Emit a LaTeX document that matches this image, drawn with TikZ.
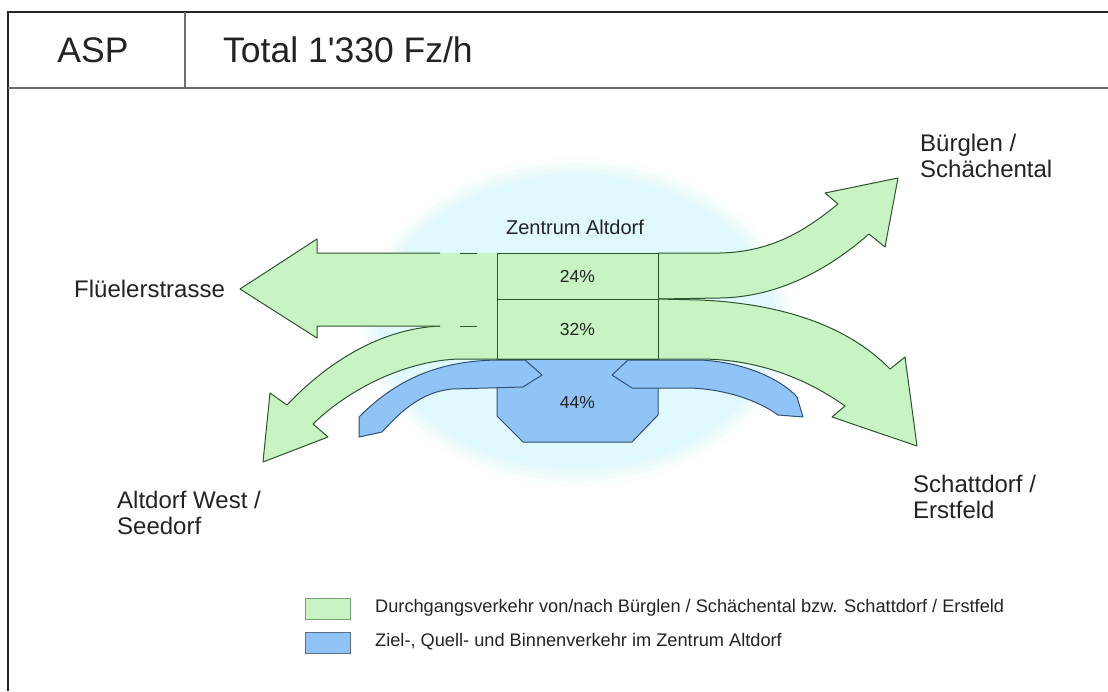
\documentclass[tikz,border=0pt]{standalone}
\usepackage{fontspec}
\setmainfont{Liberation Sans}
\definecolor{flowgreen}{RGB}{200,244,196}
\definecolor{flowgreenline}{RGB}{45,85,45}
\definecolor{flowblue}{RGB}{145,196,246}
\definecolor{flowblueline}{RGB}{50,80,115}
\definecolor{zonecyan}{RGB}{224,249,252}
\definecolor{txt}{RGB}{35,35,35}
\definecolor{framegray}{RGB}{110,110,110}
\tikzset{
  place/.style={font=\fontsize{24}{26.5}\selectfont, text=txt, inner sep=0pt, align=left},
  head/.style={font=\fontsize{35.5}{37}\selectfont, text=txt, inner sep=0pt},
  pct/.style={font=\fontsize{17.5}{19}\selectfont, text=txt, inner sep=0pt},
  legtext/.style={font=\fontsize{18.2}{20}\selectfont, text=txt, inner sep=0pt, anchor=west},
  legbox/.style={minimum width=45pt, minimum height=21pt, inner sep=0pt, line width=1pt},
  greenfill/.style={fill=flowgreen},
  greenline/.style={draw=flowgreenline, line width=1pt, line join=round},
  blueflow/.style={fill=flowblue, draw=flowblueline, line width=1pt, line join=round},
}
\begin{document}
\begin{tikzpicture}[x=1pt,y=-1pt]
\useasboundingbox (0,0) rectangle (1108,691);
\fill[white] (0,0) rectangle (1108,691);

% frame and header
\draw[line width=1.6pt, black!85] (8,691) -- (8,12) -- (1108,12);
\draw[line width=1.6pt, framegray] (8,88) -- (1108,88);
\draw[line width=1.2pt, framegray] (185,12) -- (185,88);
\node[head] (asp) at (93,50) {ASP};
\node[head, anchor=west] (total) at (223,50) {Total 1\textquotesingle 330 Fz/h};

% town centre zone with a soft rim
\foreach \d/\o in {18/0.15, 13/0.25, 8/0.35, 3/0.5, 0/1} {
  \fill[zonecyan, opacity=\o] (577,322) ellipse [x radius=197+\d, y radius=146+\d];
}
\node[font=\fontsize{20}{22}\selectfont, text=txt, inner sep=0pt] (zentrum) at (575,227) {Zentrum Altdorf};

% flow towards Altdorf West / Seedorf
\fill[greenfill] (497,326) -- (440,326) .. controls (375,329) and (322,368) .. (287,405)
  -- (270,393) -- (263,462) -- (328,437) -- (313,424)
  .. controls (352,386) and (410,360) .. (460,359) -- (497,359) -- cycle;
\draw[greenline] (440,326) .. controls (375,329) and (322,368) .. (287,405)
  -- (270,393) -- (263,462) -- (328,437) -- (313,424)
  .. controls (352,386) and (410,360) .. (460,359) -- (497,359);

% flow towards Flüelerstrasse
\fill[greenfill] (497,253) -- (317,253) -- (317,239) -- (240,289) -- (317,338)
  -- (317,326) -- (497,326) -- cycle;
\draw[greenline] (440,253) -- (317,253) -- (317,239) -- (240,289) -- (317,338)
  -- (317,326) -- (440,326);
\draw[greenline] (460,253) -- (477,253);
\draw[greenline] (460,326) -- (477,326);

% flow towards Bürglen / Schächental
\filldraw[greenfill, greenline] (658,253) -- (720,253) .. controls (772,252) and (806,230) .. (838,204)
  -- (825,193) -- (898,178) -- (885,247) -- (869,234)
  .. controls (830,268) and (780,297) .. (720,298) -- (658,299);

% flow towards Schattdorf / Erstfeld
\filldraw[greenfill, greenline] (658,299) -- (700,300) .. controls (790,304) and (852,330) .. (890,369)
  -- (905,357) -- (917,446) -- (832,417) -- (845,406)
  .. controls (800,374) and (750,359) .. (700,359) -- (658,359);

% through-traffic cells
\node[draw=flowgreenline, fill=flowgreen, line width=1pt, minimum width=161pt, minimum height=46pt,
  inner sep=0pt, pct] (c24) at (577.5,276) {24\%};
\node[draw=flowgreenline, fill=flowgreen, line width=1pt, minimum width=161pt, minimum height=60pt,
  inner sep=0pt, pct] (c32) at (577.5,329) {32\%};

% local traffic in the centre
\draw[blueflow] (497,359) -- (658,359) -- (658,415) -- (632,442) -- (523,442) -- (497,416) -- cycle;
\draw[blueflow] (359,417) .. controls (392,384) and (432,361) .. (497,360) -- (525,360)
  -- (542,375) -- (523,387) -- (452,389) .. controls (422,392) and (402,410) .. (382,432)
  -- (359,437) -- cycle;
\draw[blueflow] (612,375) -- (628,360) -- (700,360) .. controls (745,362) and (782,380) .. (797,397)
  -- (803,417) -- (778,415) .. controls (756,399) and (722,389) .. (690,388) -- (632,388) -- cycle;
\draw[flowgreenline, line width=1pt] (c32.south west) -- (c32.south east);
\node[pct] (c44) at (577.5,402) {44\%};

% destinations
\node[place, anchor=west] (flueeler) at (74,289) {Flüelerstrasse};
\node[place, anchor=west] (buerglen) at (920,156) {Bürglen /\\Schächental};
\node[place, anchor=west] (schattdorf) at (913,497) {Schattdorf /\\Erstfeld};
\node[place, anchor=west] (west) at (117,513) {Altdorf West /\\Seedorf};

% legend
\node[legbox, fill=flowgreen, draw={rgb,255:red,120;green,155;blue,120}] (lgreen) at (328,609) {};
\node[legbox, fill=flowblue, draw={rgb,255:red,85;green,110;blue,140}] (lblue) at (328,643) {};
\node[legtext] (tgreen) at (375,608) {Durchgangsverkehr von/nach Bürglen / Schächental bzw. Schattdorf / Erstfeld};
\node[legtext] (tblue) at (375,642) {Ziel-, Quell- und Binnenverkehr im Zentrum Altdorf};
\end{tikzpicture}
\end{document}
